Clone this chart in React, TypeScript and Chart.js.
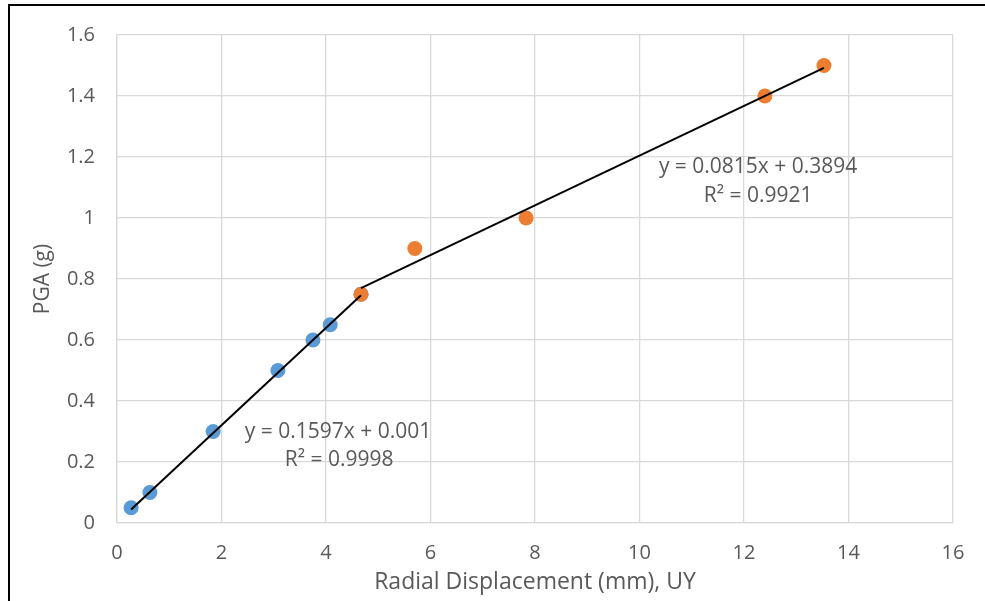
import React, { useEffect, useRef } from "react";
import { Chart, registerables } from "chart.js";

Chart.register(...registerables);

// Data
const blueX = [0.27, 0.63, 1.84, 3.08, 3.75, 4.08, 4.67];
const blueY = [0.05, 0.1, 0.3, 0.5, 0.6, 0.65, 0.75];
const orangeX = [4.67, 5.7, 7.83, 12.4, 13.53];
const orangeY = [0.75, 0.9, 1.0, 1.4, 1.5];

// Trendline coefficients (from the chart's labels)
const blueSlope = 0.1597;
const blueIntercept = 0.001;
const orangeSlope = 0.0815;
const orangeIntercept = 0.3894;

const blueEq = ["y = 0.1597x + 0.001", "R² = 0.9998"];
const orangeEq = ["y = 0.0815x + 0.3894", "R² = 0.9921"];

const xTitle = "Radial Displacement (mm), UY";
const yTitle = "PGA (g)";

const FONT = "'Open Sans', 'Liberation Sans', Arial, sans-serif";
const TEXT = "#595959";
const GRID = "#d9d9d9";

function trend(xs: number[], m: number, b: number) {
  const lo = Math.min(...xs);
  const hi = Math.max(...xs);
  return [
    { x: lo, y: m * lo + b },
    { x: hi, y: m * hi + b },
  ];
}

export default function App() {
  const ref = useRef<HTMLCanvasElement | null>(null);
  useEffect(() => {
    if (!ref.current) return;
    const frame = {
      id: "frame",
      afterDraw(chart: any) {
        const ctx = chart.ctx;
        ctx.save();
        ctx.strokeStyle = "#000";
        ctx.lineWidth = 2;
        ctx.beginPath();
        ctx.moveTo(8, 5);
        ctx.lineTo(985, 5);
        ctx.moveTo(9, 4);
        ctx.lineTo(9, 601);
        ctx.stroke();
        // equation labels
        const xs = chart.scales.x;
        const ys = chart.scales.y;
        ctx.fillStyle = TEXT;
        ctx.font = `21px ${FONT}`;
        ctx.textAlign = "center";
        ctx.textBaseline = "middle";
        ctx.fillText(blueEq[0], xs.getPixelForValue(4.23), ys.getPixelForValue(0.298));
        ctx.fillText(blueEq[1], xs.getPixelForValue(4.25), ys.getPixelForValue(0.205));
        ctx.fillText(orangeEq[0], xs.getPixelForValue(12.27), ys.getPixelForValue(1.166));
        ctx.fillText(orangeEq[1], xs.getPixelForValue(12.27), ys.getPixelForValue(1.072));
        ctx.restore();
      },
    };
    const chart = new Chart(ref.current, {
      type: "scatter",
      data: {
        datasets: [
          {
            label: "trend1",
            data: trend(blueX, blueSlope, blueIntercept),
            showLine: true,
            borderColor: "#000",
            borderWidth: 2,
            pointRadius: 0,
            order: 0,
          },
          {
            label: "trend2",
            data: trend(orangeX, orangeSlope, orangeIntercept),
            showLine: true,
            borderColor: "#000",
            borderWidth: 2,
            pointRadius: 0,
            order: 0,
          },
          {
            label: "orange",
            data: orangeX.map((x, i) => ({ x, y: orangeY[i] })),
            backgroundColor: "#ed7d31",
            borderColor: "#ed7d31",
            pointRadius: 7.5,
            borderWidth: 0,
            order: 1,
          },
          {
            label: "blue",
            data: blueX.map((x, i) => ({ x, y: blueY[i] })),
            backgroundColor: "#5b9bd5",
            borderColor: "#5b9bd5",
            pointRadius: 7.5,
            borderWidth: 0,
            order: 2,
          },
        ],
      },
      options: {
        animation: false,
        responsive: false,
        layout: { padding: { left: 0, right: 32, top: 35, bottom: 0 } },
        plugins: { legend: { display: false }, tooltip: { enabled: false } },
        scales: {
          x: {
            type: "linear",
            min: 0,
            max: 16,
            afterFit: (s: any) => {
              s.height = 78;
            },
            ticks: { stepSize: 2, color: TEXT, font: { family: FONT, size: 20 }, padding: 18 },
            grid: { color: GRID, lineWidth: 1.3, drawTicks: false },
            border: { color: GRID, width: 1.3 },
            title: {
              display: true,
              text: xTitle,
              color: TEXT,
              font: { family: FONT, size: 23 },
              padding: { top: 0, bottom: 5 },
            },
          },
          y: {
            type: "linear",
            min: 0,
            max: 1.6,
            afterFit: (s: any) => {
              s.width = 117;
            },
            ticks: {
              stepSize: 0.2,
              color: TEXT,
              font: { family: FONT, size: 20 },
              padding: 22,
              callback: (v: any) => String(Math.round(Number(v) * 10) / 10),
            },
            grid: { color: GRID, lineWidth: 1.3, drawTicks: false },
            border: { color: GRID, width: 1.3 },
            title: {
              display: true,
              text: yTitle,
              color: TEXT,
              font: { family: FONT, size: 21 },
              padding: { top: 30, bottom: 0 },
            },
          },
        },
      },
      plugins: [frame],
    });
    return () => chart.destroy();
  }, []);
  return (
    <canvas
      ref={ref}
      width={985}
      height={601}
      style={{ position: "fixed", left: 0, top: 0, width: 985, height: 601, background: "#fff" }}
    />
  );
}
